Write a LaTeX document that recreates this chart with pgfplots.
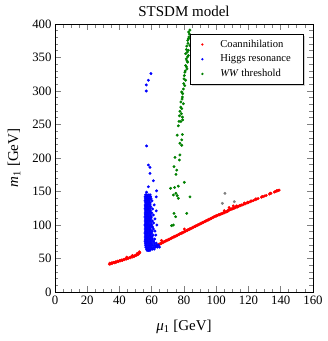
\documentclass[border=0pt]{standalone}
\usepackage{pgfplots}
\pgfplotsset{compat=1.18}
\usepackage{fontspec}
\setmainfont{Liberation Serif}
\usetikzlibrary{shadows}
\definecolor{wwgreen}{rgb}{0.0,0.5,0.0}
\begin{document}
\begin{tikzpicture}
\useasboundingbox (-55pt,-49pt) rectangle (273pt,292pt);
\begin{axis}[
 at={(0pt,0pt)}, anchor=south west,
 scale only axis, width=258pt, height=268pt,
 xmin=0,xmax=160,ymin=0,ymax=400,
 xtick={0,20,...,160}, ytick={0,50,...,400},
 minor x tick num=3, minor y tick num=4,
 tick align=inside,
 major tick length=6pt, minor tick length=3.5pt,
 every tick/.style={gray, line width=0.8pt},
 axis line style={black, line width=0.6pt},
 tick label style={font=\fontsize{12.8}{14}\selectfont},
 /pgf/number format/assume math mode=true,
 title={STSDM model},
 title style={font=\fontsize{15}{18}\selectfont, at={(axis description cs:0.5,1.023)}, anchor=center},
 xlabel={\textit{μ}\textsubscript{1} [GeV]}, ylabel={\textit{m}\textsubscript{1} [GeV]},
 label style={font=\fontsize{15}{18}\selectfont},
 xlabel style={at={(axis description cs:0.5,-0.131)}, anchor=center},
 ylabel style={at={(axis description cs:-0.159,0.5)}, anchor=center},
 legend style={at={(0.961,0.963)},anchor=north east, draw=black, fill=white,
   drop shadow={shadow xshift=2pt,shadow yshift=-2pt, fill=gray!70},
   font=\fontsize{10.6}{12.5}\selectfont, row sep=2pt, column sep=6pt,
   inner xsep=10pt, inner ysep=4pt, nodes={inner sep=2pt}},
 legend image code/.code={%
   \pgfpathrectangle{\pgfpoint{0pt}{-1.3pt}}{\pgfpoint{12pt}{2.6pt}}\pgfusepath{use as bounding box}%
   \pgfpathcircle{\pgfpoint{2pt}{0pt}}{1.3pt}\pgfusepath{fill}},
 legend cell align=left,
]
% Coannihilation
\addplot[only marks, mark=*, color=red, mark size=1.25pt] coordinates {
(33.7,41.5)(34.0,43.0)(34.5,42.0)(35.0,43.5)(35.4,42.5)(36.0,43.8)(36.5,44.2)(37.0,43.5)
(37.6,45.0)(38.2,44.6)(38.8,46.0)(39.4,45.5)(40.0,46.8)(40.6,46.5)(41.2,47.8)(41.8,47.2)
(42.4,48.5)(43.0,48.2)(43.6,49.6)(44.2,49.0)(44.8,50.4)(45.4,50.0)(46.0,51.3)(46.6,51.0)
(47.2,52.5)(47.8,52.0)(48.4,53.4)(49.0,53.0)(49.6,54.5)(50.2,54.2)(50.8,55.8)(51.4,55.5)
(52.0,57.0)(52.6,58.5)(44.5,52.0)(48.0,54.6)(51.0,57.5)(52.3,60.0)
(63,69.0)(63.5,70.2)(64,70.2)(64.5,71.4)(65,71.4)(65.5,72.6)(66,72.6)(66.5,73.8)(67,73.8)(67.5,75.0)
(68,75.0)(68.5,76.2)(69,76.2)(69.5,77.4)(70,77.4)(70.5,78.6)(71,78.6)(71.5,79.8)(72,79.8)(72.5,81.0)
(73,81.0)(73.5,82.2)(74,82.2)(74.5,83.4)(75,83.4)(75.5,84.6)(76,84.6)(76.5,85.8)(77,85.8)(77.5,87.0)
(78,87.0)(78.5,88.2)(79,88.2)(79.5,89.4)(80,89.4)(80.5,90.6)(81,90.6)(81.5,91.8)(82,91.8)(82.5,93.0)
(83,93.0)(83.5,94.2)(84,94.2)(84.5,95.4)(85,95.4)(85.5,96.6)(86,96.6)(86.5,97.8)(87,97.8)(87.5,99.0)
(88,99.0)(88.5,100.2)(89,100.2)(89.5,101.4)(90,101.4)(90.5,102.6)(91,102.6)(91.5,103.8)(92,103.8)(92.5,105.0)
(93,105.0)(93.5,106.2)(94,106.2)(94.5,107.4)(95,107.4)(95.5,108.6)(96,108.6)(96.5,109.8)(97,109.8)(97.5,111.0)
(98,111.0)(98.5,112.2)(99,112.2)(99.5,113.4)(100,113.4)(100.5,114.5)(101,114.4)(101.5,115.4)(102,115.3)(102.5,116.4)
(103,116.3)(103.5,117.3)(104,117.2)(104.5,118.3)(105,118.2)(105.5,119.3)(106,119.2)(106.5,120.2)(107,120.2)(107.5,122.5)
(108,122.0)(108.5,123.5)(109,122.9)(109.5,124.2)(110,124.0)(110.5,125.0)(111,124.8)(111.5,126.0)(112,125.9)(112.5,128.5)
(113,126.8)(113.5,128.0)(114,127.8)(114.5,129.0)(115,128.8)(115.5,130.0)(116,129.8)(117,130.8)(117.5,132.8)(118,131.7)
(119,132.7)(119.5,134.0)(120,133.6)(121,134.6)(121.5,136.0)(122,135.6)(123,136.6)(124,137.5)(124.5,139.0)(125,138.5)
(126,139.5)(128,141.4)(128.5,142.5)(129,142.3)(130,143.3)(131,144.3)(133,146.2)(133.5,147.5)(134,147.2)
(136,149.1)(136.5,150.0)(137,150.0)(137.5,151.2)(138,151.0)(138.5,151.8)(139,152.0)
(80.2,94.0)(66,77)(108,126)(110.6,128.5)(105,121.5)
};
\addlegendentry{Coannihilation}
% Higgs resonance
\addplot[only marks, mark=*, color=blue, mark size=1.25pt] coordinates {
(59.5,326)(57.9,316)(56.6,309)(56.6,300)(56.8,218)(57.9,189.5)(58.9,186)(58.9,177)(61,166)
(57.9,157)(56.8,149)(63,151)(62.8,142)
(56.2,145)(57.0,145)(58.1,145)(59.0,145)
(55.9,142)(56.8,142)(57.5,142)(58.4,142)(59.3,142)
(56.0,139)(56.6,139)(57.3,139)(58.0,139)(58.8,139)(59.6,139)
(55.8,136)(56.5,136)(57.2,136)(57.9,136)(58.6,136)(60.2,136)
(56.1,133)(56.9,133)(57.6,133)(58.3,133)(59.1,133)
(55.9,130)(56.7,130)(57.4,130)(58.2,130)(59.0,130)(61.5,130)
(56.0,127)(56.8,127)(57.5,127)(58.4,127)(59.4,127)
(55.8,124)(56.5,124)(57.3,124)(58.0,124)(58.9,124)(60.5,124)
(56.1,121)(56.9,121)(57.7,121)(58.5,121)(59.2,121)(62.8,121)
(55.9,118)(56.6,118)(57.4,118)(58.2,118)(59.0,118)(60.0,118)
(56.0,115)(56.8,115)(57.6,115)(58.3,115)(59.3,115)(61.0,115)
(55.8,112)(56.5,112)(57.2,112)(58.0,112)(58.8,112)(59.8,112)
(56.1,109)(56.9,109)(57.7,109)(58.6,109)(59.5,109)(62.0,109)
(55.9,106)(56.7,106)(57.5,106)(58.3,106)(59.1,106)(60.4,106)
(56.0,103)(56.8,103)(57.6,103)(58.4,103)(59.6,103)(61.2,103)
(55.8,100)(56.6,100)(57.4,100)(58.2,100)(59.0,100)(60.0,100)(63.2,100)
(56.1,97)(56.9,97)(57.7,97)(58.5,97)(59.4,97)(60.6,97)
(55.9,94)(56.7,94)(57.5,94)(58.3,94)(59.2,94)(61.0,94)
(56.0,91)(56.8,91)(57.6,91)(58.5,91)(59.5,91)(60.3,91)(62.0,91)
(55.8,88)(56.6,88)(57.4,88)(58.2,88)(59.1,88)(60.0,88)
(56.1,85)(56.9,85)(57.7,85)(58.6,85)(59.5,85)(60.8,85)(62.5,85)
(55.9,82)(56.7,82)(57.5,82)(58.4,82)(59.3,82)(60.2,82)
(56.0,79)(56.8,79)(57.6,79)(58.5,79)(59.4,79)(60.4,79)(61.8,79)
(55.8,76)(56.6,76)(57.4,76)(58.3,76)(59.2,76)(60.1,76)(61.2,76)
(56.0,73)(56.8,73)(57.6,73)(58.4,73)(59.3,73)(60.2,73)(61.5,73)(62.8,73)
(56.1,70)(56.9,70)(57.8,70)(58.7,70)(59.6,70)(60.6,70)(61.8,70)(63.0,70)(64.2,70)
(56.3,67)(57.2,67)(58.1,67)(59.0,67)(60.0,67)(61.2,67)(62.4,67)(63.6,67)(64.8,67)
(56.8,64)(57.6,64)(58.5,64)(59.4,64)(60.4,64)(61.5,64)
(57.2,62)(58.0,62)(58.9,62)
};
\addlegendentry{Higgs resonance}
% WW threshold
\addplot[only marks, mark=*, color=wwgreen, mark size=1.25pt] coordinates {
(72.3,99)(73.4,100)(73.8,117.4)(74.8,112.4)(81.7,117.4)(73.4,144.8)(75,147.3)(75.8,143.7)
(76.5,139.8)(83.7,142)(71.7,154.7)(74.2,156)(76.5,158)(80.2,163.7)(75,175.6)(75.5,182)
(73.8,187)(77.1,197)(74.4,201)(77.5,204.5)(78.6,219)(77.5,222)(78.6,227)(75.8,234)(79,235)
(76.5,248)(76.9,254.8)(79,261)(77.5,269.7)(78.6,273.6)(79.6,281)(78.1,283.6)(79,291)
(78.6,298.5)(79.6,303)(79.8,311)(81,316)(80.2,323)(80.6,328)(81.9,333)(81,338)(82.3,343)
(81.4,348)(82.7,353)(81,355.7)(82.7,360.7)(81.7,367)(83.7,368)(82.3,375.6)(83.1,380.6)(83.7,391)
(82.0,358)(81.5,362)(82.5,371)(82.8,378)(83.4,385)(82.9,388)(81.8,345)(82.2,351)(80.8,330)
(81.5,336)(80.0,318)(80.5,308)(79.2,296)(78.8,288)(78.0,276)(77.2,263)(78.4,266)(78.1,254.5)(79.2,257)
};
\addlegendentry{\textit{WW} threshold}
% unclassified (gray)
\addplot[only marks, mark=*, color=gray, mark size=1.25pt, forget plot] coordinates {
(103.8,132.3)(105.4,147.3)(111.2,134.8)
};
\end{axis}
\end{tikzpicture}
\end{document}
